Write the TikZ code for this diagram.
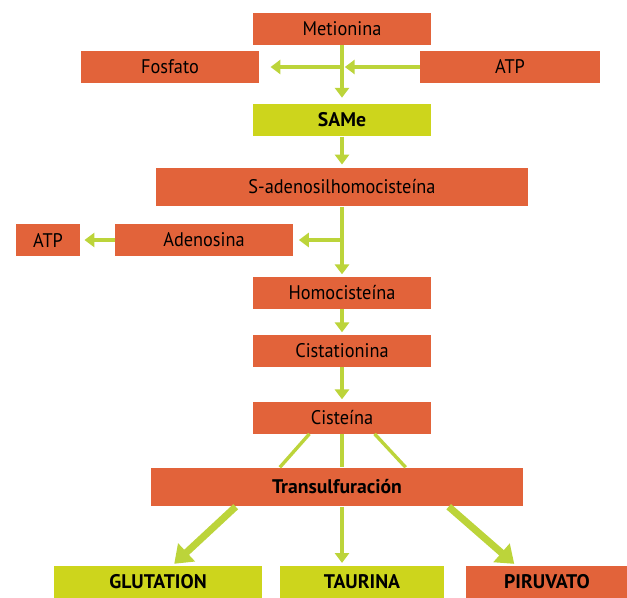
\documentclass[tikz,border=0pt]{standalone}
\usepackage{fontspec}
\setmainfont{PT Sans}[FakeStretch=0.93]
\newfontfamily\widefont{PT Sans}
\usetikzlibrary{arrows.meta,positioning}
\definecolor{boxorange}{HTML}{E2633A}
\definecolor{boxlime}{HTML}{CDD51C}
\definecolor{arrowlime}{HTML}{BCD43A}
\begin{document}
\begin{tikzpicture}[
  x=0.025cm, y=-0.025cm,
  every node/.style={font=\fontsize{14}{16}\selectfont, inner sep=0pt},
  orangebox/.style={fill=boxorange, minimum width=4.45cm, minimum height=0.78cm},
  limebox/.style={fill=boxlime, minimum width=4.45cm, minimum height=0.82cm},
  boldtext/.style={font=\fontsize{14}{16}\selectfont\widefont\bfseries},
  flow/.style={draw=arrowlime, line width=2.6pt, -{Triangle[width=10pt,length=7pt]}},
  bigflow/.style={draw=arrowlime, line width=5pt, -{Triangle[width=17pt,length=12pt]}},
  fan/.style={draw=arrowlime, line width=2.4pt}
]
\useasboundingbox (0,0) rectangle (627,598);
\node[orangebox] (met) at (342,29) {Metionina};
\node[orangebox] (fos) at (170,67) {Fosfato};
\node[orangebox, minimum width=4.5cm] (atpa) at (510,67) {ATP};
\node[limebox, boldtext] (same) at (342,120) {SAMe};
\node[orangebox, minimum width=9.3cm, minimum height=0.97cm] (sah) at (342,187) {S-adenosilhomocisteína};
\node[orangebox] (ade) at (204,240) {Adenosina};
\node[orangebox, minimum width=1.6cm] (atpb) at (48,240) {ATP};
\node[orangebox] (hcy) at (342,293) {Homocisteína};
\node[orangebox] (cth) at (342,351) {Cistationina};
\node[orangebox] (cys) at (342,418) {Cisteína};
\node[orangebox, boldtext, minimum width=9.28cm, minimum height=0.97cm] (trans) at (337,487) {Transulfuración};
\node[limebox, boldtext, minimum width=5.2cm, minimum height=0.8cm] (glu) at (158,582) {GLUTATION};
\node[limebox, boldtext, minimum width=4.12cm, minimum height=0.8cm] (tau) at (362,582) {TAURINA};
\node[orangebox, boldtext, minimum width=4.05cm, minimum height=0.8cm] (piru) at (547,582) {PIRUVATO};
\coordinate (j1) at (342,67);
\coordinate (j2) at (342,240);
\coordinate (t3) at (tau.north -| cys.south);

\draw[flow, shorten >=4pt] (met) -- (same);
\draw[flow, shorten >=2pt] (atpa.west) -- (j1);
\draw[flow, shorten >=8pt] (j1) -- (fos.east);
\draw[flow, shorten >=2pt] (same) -- (sah);
\draw[flow, shorten >=2pt] (sah) -- (hcy);
\draw[flow, shorten >=4pt] (j2) -- (ade.east);
\draw[flow, shorten >=3pt] (ade.west) -- (atpb.east);
\draw[flow, shorten >=2pt] (hcy) -- (cth);
\draw[flow, shorten >=2pt] (cth) -- (cys);
\draw[fan] (cys.206) -- (trans.161);
\draw[fan] (cys.south) -- (cys.south |- trans.north);
\draw[fan] (cys.334) -- (trans.16);
\draw[bigflow, shorten >=2pt] (trans.191) -- (glu.49);
\draw[flow, shorten >=2pt] (trans.south -| cys.south) -- (t3);
\draw[bigflow, shorten >=2pt] (trans.350) -- (piru.152);
\end{tikzpicture}
\end{document}
